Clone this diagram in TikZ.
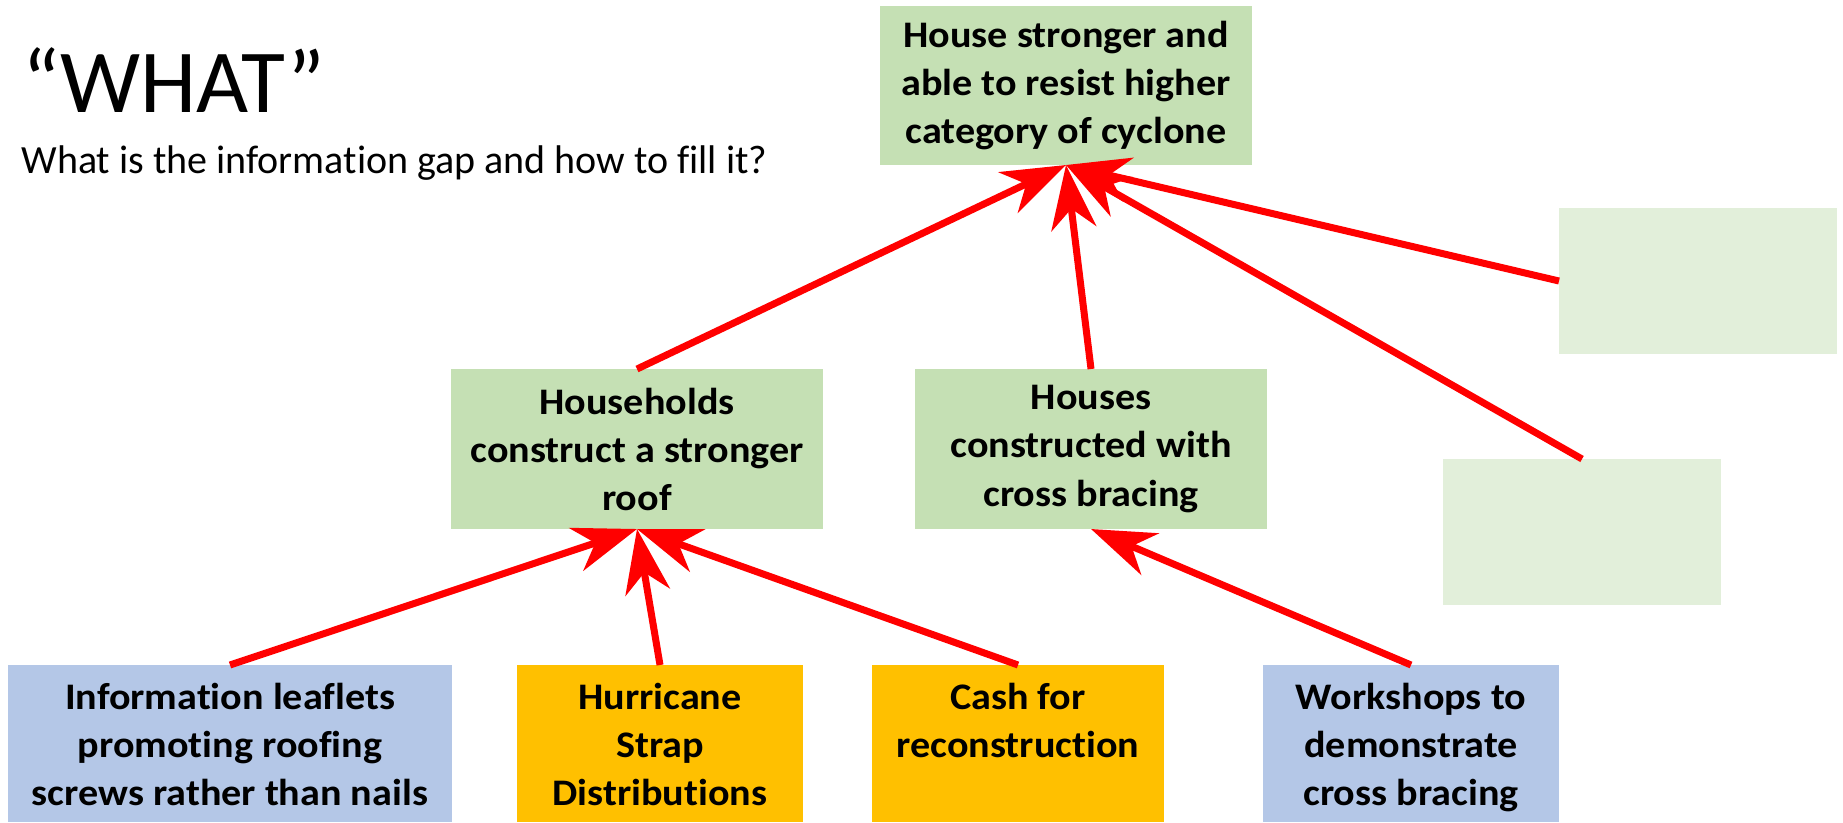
\documentclass[tikz,border=0pt]{standalone}
\usepackage{fontspec}
\setmainfont{Carlito}[Ligatures={TeX,NoCommon}]
\newfontfamily\boxfont[FakeStretch=1.07,Ligatures={TeX,NoCommon}]{Carlito}
\usetikzlibrary{arrows.meta}
\definecolor{boxgreen}{HTML}{C5E0B4}
\definecolor{palegreen}{HTML}{E2EFDA}
\definecolor{boxblue}{HTML}{B4C7E7}
\definecolor{boxorange}{HTML}{FFC000}
\definecolor{arrowred}{HTML}{FF0000}
\begin{document}
\begin{tikzpicture}[x=0.4pt,y=-0.4pt,
  box/.style={inner sep=0pt, outer sep=0pt, anchor=north west, align=center,
    font=\boxfont\bfseries\fontsize{15}{19.2}\selectfont},
  boxtext/.style={inner sep=0pt, anchor=north, align=center,
    font=\boxfont\bfseries\fontsize{15}{19.2}\selectfont},
  arr/.style={draw=arrowred, line width=2.8pt,
    -{Stealth[length=25.6pt,width=18pt,inset=8pt]}},
]
\useasboundingbox (0,0) rectangle (1843,822);

% title
\node[anchor=base west, inner sep=0pt, font=\fontsize{36}{40}\selectfont] (title) at (22,112) {“WHAT”};
\node[anchor=base west, inner sep=0pt, font=\fontsize{16}{19}\selectfont] (subtitle) at (21,173) {What is the information gap and how to fill it?};

% top and middle boxes
\node[box, fill=boxgreen, minimum width=148.8pt, minimum height=63.6pt] (top) at (880,6)
  {House stronger and\\able to resist higher\\category of cyclone};
\node[box, fill=boxgreen, minimum width=148.8pt, minimum height=64pt] (mb1) at (451,369)
  {Households\\construct a stronger\\roof};
\node[box, fill=boxgreen, minimum width=140.8pt, minimum height=64pt] (mb2) at (915,369)
  {Houses\\constructed with\\cross bracing};
\node[box, fill=palegreen, minimum width=111.2pt, minimum height=58.4pt] (rb1) at (1559,208) {};
\node[box, fill=palegreen, minimum width=111.2pt, minimum height=58.4pt] (rb2) at (1443,459) {};

% bottom boxes
\node[box, fill=boxblue, minimum width=177.6pt, minimum height=62.8pt] (b1) at (8,665) {};
\node[box, fill=boxorange, minimum width=114.4pt, minimum height=62.8pt] (b2) at (517,665) {};
\node[box, fill=boxorange, minimum width=116.8pt, minimum height=62.8pt] (b3) at (872,665) {};
\node[box, fill=boxblue, minimum width=118.4pt, minimum height=62.8pt] (b4) at (1263,665) {};

\node[boxtext] (t1) at (230,675) {\strut Information leaflets\\promoting roofing\\screws rather than nails};
\node[boxtext] (t2) at (660,675) {\strut Hurricane\\Strap\\Distributions};
\node[boxtext] (t3) at (1018,675) {\strut Cash for\\reconstruction};
\node[boxtext] (t4) at (1411,675) {\strut Workshops to\\demonstrate\\cross bracing};

% arrows
\draw[arr] (mb1.north) -- (top.south);
\draw[arr] (mb2.north) -- (top.south);
\draw[arr] (rb1.west) -- (top.south);
\draw[arr] (rb2.north) -- (top.south);
\draw[arr] (b1.north) -- (mb1.south);
\draw[arr] (b2.north) -- (mb1.south);
\draw[arr] (b3.north) -- (mb1.south);
\draw[arr] (b4.north) -- (mb2.south);
\end{tikzpicture}
\end{document}
